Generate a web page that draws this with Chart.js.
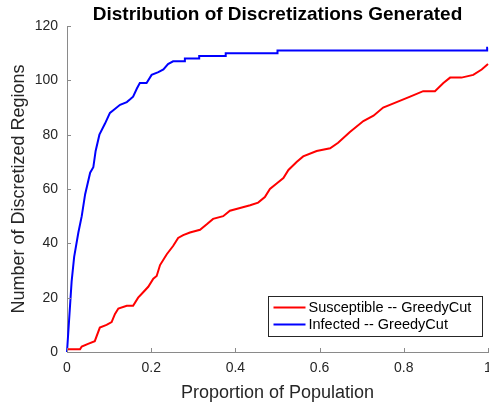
<!DOCTYPE html>
<html>
<head>
<meta charset="utf-8">
<script src="https://cdn.jsdelivr.net/npm/chart.js@4.4.1/dist/chart.umd.min.js"></script>
<style>
  body { margin: 0; background: #fff; }
  #wrap { width: 489px; height: 408px; }
</style>
</head>
<body>
<div id="wrap"><canvas id="chart" width="489" height="408"></canvas></div>
<script>
// values
const susceptibleX = [0, 0.031, 0.035, 0.05, 0.066, 0.078, 0.094, 0.106, 0.114, 0.122, 0.142, 0.157, 0.169, 0.181, 0.193, 0.205, 0.213, 0.221, 0.237, 0.252, 0.264, 0.276, 0.292, 0.316, 0.332, 0.347, 0.371, 0.387, 0.411, 0.435, 0.454, 0.47, 0.482, 0.498, 0.514, 0.526, 0.546, 0.561, 0.593, 0.625, 0.644, 0.672, 0.704, 0.728, 0.751, 0.783, 0.815, 0.846, 0.874, 0.894, 0.91, 0.937, 0.965, 0.985, 1];
const susceptibleY = [1, 1, 2, 3, 4, 9, 10, 11, 14, 16, 17, 17, 20, 22, 24, 27, 28, 32, 36, 39, 42, 43, 44, 45, 47, 49, 50, 52, 53, 54, 55, 57, 60, 62, 64, 67, 70, 72, 74, 75, 77, 81, 85, 87, 90, 92, 94, 96, 96, 99, 101, 101, 102, 104, 106];

const infectedX = [0, 0.011, 0.017, 0.027, 0.035, 0.043, 0.055, 0.0625, 0.068, 0.077, 0.09, 0.102, 0.11, 0.126, 0.142, 0.15, 0.157, 0.166, 0.173, 0.189, 0.201, 0.217, 0.229, 0.24, 0.252, 0.28, 0.28, 0.314, 0.314, 0.377, 0.377, 0.5, 0.5, 0.998, 0.998, 1];
const infectedY = [0, 26, 35, 44, 50, 58, 66, 68, 74, 80, 84, 88, 89, 91, 92, 93, 94, 97, 99, 99, 102, 103, 104, 106, 107, 107, 108, 108, 109, 109, 110, 110, 111, 111, 112, 112];

const xTicks = [0, 0.2, 0.4, 0.6, 0.8, 1];
const yTicks = [0, 20, 40, 60, 80, 100, 120];

const chartTitle = 'Distribution of Discretizations Generated';

const toPoints = (xs, ys) => xs.map((x, i) => ({ x: x, y: ys[i] }));

const axisColor = '#8a8a8a';
const textColor = '#262626';
const fontFam = '"Liberation Sans", Arial, sans-serif';

// MATLAB-like title over the axes, inward ticks, boxed legend inside the plot
const matlabBits = {
  id: 'matlabBits',
  afterDraw(chart) {
    const ctx = chart.ctx;
    const xs = chart.scales.x, ys = chart.scales.y;
    const area = chart.chartArea;
    ctx.save();

    ctx.fillStyle = '#000';
    ctx.font = 'bold 19px ' + fontFam;
    ctx.textAlign = 'center';
    ctx.textBaseline = 'alphabetic';
    ctx.fillText(chartTitle, (area.left + area.right) / 2, 20);

    ctx.strokeStyle = axisColor;
    ctx.lineWidth = 1;
    ctx.beginPath();
    xTicks.forEach(v => {
      const px = Math.round(xs.getPixelForValue(v)) + 0.5;
      ctx.moveTo(px, area.bottom);
      ctx.lineTo(px, area.bottom - 4);
    });
    yTicks.forEach(v => {
      const py = Math.round(ys.getPixelForValue(v)) + 0.5;
      ctx.moveTo(area.left, py);
      ctx.lineTo(area.left + 4, py);
    });
    ctx.stroke();

    // legend
    const bx = 268.5, by = 296.5, bw = 214, bh = 40;
    ctx.fillStyle = '#fff';
    ctx.fillRect(bx, by, bw, bh);
    ctx.strokeStyle = '#262626';
    ctx.strokeRect(bx, by, bw, bh);
    ctx.font = '14.5px ' + fontFam;
    ctx.textAlign = 'left';
    ctx.textBaseline = 'middle';
    chart.data.datasets.forEach((ds, i) => {
      const y = by + 11 + i * 17;
      ctx.strokeStyle = ds.borderColor;
      ctx.lineWidth = 2;
      ctx.beginPath();
      ctx.moveTo(bx + 5, y);
      ctx.lineTo(bx + 37, y);
      ctx.stroke();
      ctx.fillStyle = '#000';
      ctx.fillText(ds.label, bx + 40, y);
    });
    ctx.restore();
  }
};

new Chart(document.getElementById('chart'), {
  type: 'line',
  data: {
    datasets: [
      {
        label: 'Susceptible -- GreedyCut',
        data: toPoints(susceptibleX, susceptibleY),
        borderColor: '#ff0000',
        borderWidth: 2,
        pointRadius: 0,
        tension: 0,
        fill: false,
        clip: 3
      },
      {
        label: 'Infected -- GreedyCut',
        data: toPoints(infectedX, infectedY),
        borderColor: '#0000ff',
        borderWidth: 2,
        pointRadius: 0,
        tension: 0,
        fill: false,
        clip: 3
      }
    ]
  },
  options: {
    responsive: false,
    animation: false,
    layout: { padding: { top: 26, right: 1, bottom: 0, left: 0 } },
    plugins: {
      legend: { display: false },
      tooltip: { enabled: false },
      title: { display: false }
    },
    scales: {
      x: {
        type: 'linear',
        min: 0,
        max: 1,
        grid: { display: false, drawTicks: false },
        border: { display: true, color: axisColor, width: 1 },
        ticks: {
          stepSize: 0.2,
          color: textColor,
          padding: 8,
          maxRotation: 0,
          font: { family: fontFam, size: 14 },
          callback: v => String(+v.toFixed(2))
        },
        title: {
          display: true,
          text: 'Proportion of Population',
          color: textColor,
          font: { family: fontFam, size: 18 },
          padding: { top: 0, bottom: 4 }
        },
        afterFit(scale) {
          scale.height = 56;
          scale.paddingLeft = 0;
          scale.paddingRight = 0;
        }
      },
      y: {
        min: 0,
        max: 120,
        grid: { display: false, drawTicks: false },
        border: { display: true, color: axisColor, width: 1 },
        ticks: {
          stepSize: 20,
          color: textColor,
          padding: 9,
          font: { family: fontFam, size: 14 }
        },
        title: {
          display: true,
          text: 'Number of Discretized Regions',
          color: textColor,
          font: { family: fontFam, size: 18 },
          padding: { top: 8, bottom: 0 }
        },
        afterFit(scale) {
          scale.width = 67;
          scale.paddingTop = 0;
          scale.paddingBottom = 0;
        }
      }
    }
  },
  plugins: [matlabBits]
});
</script>
</body>
</html>
